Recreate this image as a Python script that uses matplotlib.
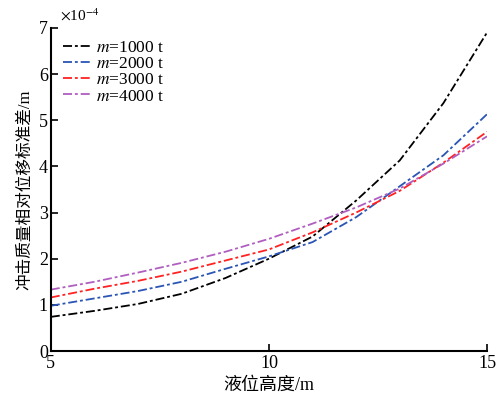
import matplotlib
matplotlib.use('Agg')
import matplotlib.pyplot as plt

plt.rcParams['font.family'] = ['Liberation Serif', 'Noto Sans CJK SC']
plt.rcParams['mathtext.fontset'] = 'stix'

# liquid level (m) and std of relative displacement (x 1e-4 m)
level = [5, 6, 7, 8, 9, 10, 11, 12, 13, 14, 15]
m1000 = [0.74, 0.87, 1.02, 1.24, 1.58, 2.00, 2.48, 3.26, 4.13, 5.37, 6.90]
m2000 = [0.98, 1.14, 1.30, 1.50, 1.78, 2.05, 2.36, 2.90, 3.57, 4.24, 5.13]
m3000 = [1.16, 1.35, 1.52, 1.72, 1.96, 2.20, 2.57, 3.00, 3.47, 4.08, 4.75]
m4000 = [1.33, 1.50, 1.70, 1.91, 2.15, 2.43, 2.76, 3.11, 3.52, 4.06, 4.65]
labels = ['$m$=1000 t', '$m$=2000 t', '$m$=3000 t', '$m$=4000 t']
colors = ['black', '#2a55b5', '#ff2222', '#b05ec0']

fig = plt.figure(figsize=(4.98, 3.98), dpi=100)
ax = fig.add_axes([0.102, 0.118, 0.876, 0.812])

dash = (0, (5, 1.6, 1.6, 1.6))
for ys, lab, c in zip([m1000, m2000, m3000, m4000], labels, colors):
    ax.plot(level, ys, color=c, lw=1.3, linestyle=dash, label=lab)

ax.set_xlim(5, 15)
ax.set_ylim(0, 7)
ax.set_xticks([5, 10, 15])
ax.set_yticks(range(8))
ax.tick_params(direction='in', length=5, width=1.2, labelsize=13, pad=3)
ax.tick_params(axis='y', pad=2)
for s in ['top', 'right']:
    ax.spines[s].set_visible(False)
for s in ['left', 'bottom']:
    ax.spines[s].set_linewidth(1.5)

ax.text(0.02, 1.012, r'$\times$10$^{-4}$', transform=ax.transAxes, fontsize=11,
        va='bottom', ha='left')

ax.set_xlabel('液位高度/m', fontsize=13, labelpad=3)
ax.set_ylabel('冲击质量相对位移标准差/m', fontsize=12, labelpad=4)

ax.legend(loc='upper left', frameon=False, fontsize=12.5, handlelength=1.6,
          handletextpad=0.3, labelspacing=0.0, borderaxespad=0.2,
          bbox_to_anchor=(0.005, 0.995))

fig.savefig('out.png', dpi=100)
